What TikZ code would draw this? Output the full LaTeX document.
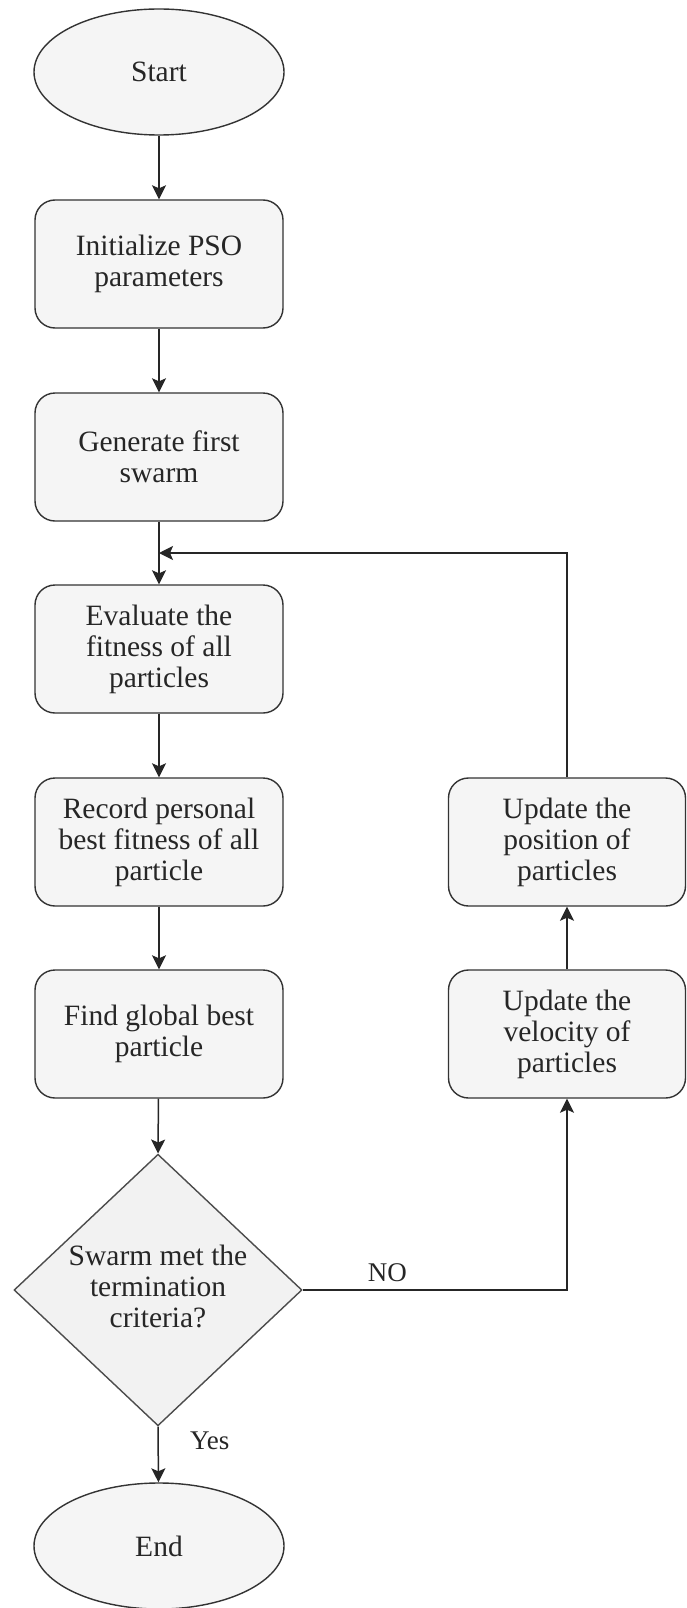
\documentclass[tikz,border=0pt]{standalone}
\usepackage{fontspec}
\setmainfont{Liberation Serif}
\usetikzlibrary{shapes.geometric,arrows.meta}

\begin{document}
\begin{tikzpicture}[x=1pt,y=-1pt,
  every node/.style={font=\fontsize{29.5}{31}\selectfont, text=black!85, align=center},
  stepbox/.style={draw=black!80, line width=1.4pt, fill=black!4, rounded corners=20pt,
    minimum width=248pt, minimum height=128pt, inner sep=0pt},
  sidebox/.style={stepbox, minimum width=237pt},
  terminal/.style={ellipse, draw=black!80, line width=1.4pt, fill=black!4,
    minimum width=250pt, minimum height=126pt, inner sep=0pt},
  decision/.style={diamond, draw=black!70, line width=1.4pt, fill=black!5,
    minimum width=288pt, minimum height=254pt, inner sep=0pt},
  flow/.style={draw=black!85, line width=1.5pt,
    -{Stealth[length=14pt,width=14pt,inset=3pt]}},
  lbl/.style={font=\fontsize{27}{29}\selectfont}
]
\path[use as bounding box, fill=white] (0,0) rectangle (687,1608);

% main column
\node[terminal] (start) at (159,72) {Start};
\node[stepbox] (init) at (159,264) {Initialize PSO\\parameters};
\node[stepbox] (gen) at (159,457) {Generate first\\swarm};
\node[stepbox] (eval) at (159,649) {Evaluate the\\fitness of all\\particles};
\node[stepbox] (rec) at (159,842) {Record personal\\best fitness of all\\particle};
\node[stepbox] (glob) at (159,1034) {Find global best\\particle};
\node[decision] (dec) at (158,1290) {\raisebox{-4pt}{\begin{tabular}{@{}c@{}}Swarm met the\\termination\\criteria?\end{tabular}}};
\node[terminal] (end) at (159,1546) {End};

% update column
\node[sidebox] (pos) at (567,842) {Update the\\position of\\particles};
\node[sidebox] (vel) at (567,1034) {Update the\\velocity of\\particles};

\coordinate (join) at (159,553);

% connectors
\draw[flow] (start) -- (init);
\draw[flow] (init) -- (gen);
\draw[flow] (gen) -- (eval);
\draw[flow] (eval) -- (rec);
\draw[flow] (rec) -- (glob);
\draw[flow] (glob) -- (dec.north);
\draw[flow] (dec.south) -- node[lbl, right=28pt, pos=0.25] (yes) {Yes} (end);
\draw[flow] (dec.east) -- node[lbl, above=4pt, pos=0.32] (no) {NO} (vel.south |- dec.east) -- (vel.south);
\draw[flow] (vel) -- (pos);
\draw[flow] (pos.north) -- (pos.north |- join) -- (join);
\end{tikzpicture}
\end{document}
